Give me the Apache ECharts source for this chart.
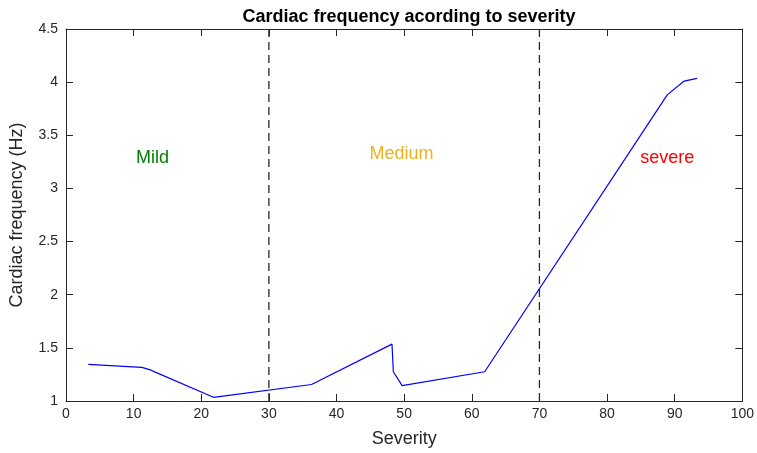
<!DOCTYPE html>
<html><head><meta charset="utf-8">
<script src="https://cdn.jsdelivr.net/npm/echarts@6/dist/echarts.min.js"></script>
<style>html,body{margin:0;padding:0;background:#fff}#c{width:757px;height:453px}</style>
</head><body><div id="c"></div>
<script>
const severity = [3.3, 11.2, 12.6, 13.2, 21.8, 36.3, 48.2, 48.4, 49.7, 61.9, 88.9, 91.4, 93.3];
const cardiacFreq = [1.345, 1.316, 1.29, 1.272, 1.035, 1.155, 1.535, 1.275, 1.145, 1.275, 3.88, 4.01, 4.035];
const dividers = [30, 70];
const regionNames = ['Mild', 'Medium', 'severe'];
const regionX = [12.8, 49.6, 88.9];
const regionY = [3.29, 3.32, 3.29];
const regionColors = ['#008000', '#EDB120', '#FF0000'];
const xTicks = [0,10,20,30,40,50,60,70,80,90,100];
const yTicks = [1,1.5,2,2.5,3,3.5,4,4.5];

const font = 'Liberation Sans, Arial, sans-serif';
const axisColor = '#262626';
const chart = echarts.init(document.getElementById('c'));

const series = [{
  type: 'line', xAxisIndex: 0, yAxisIndex: 0,
  data: severity.map((s, i) => [s, cardiacFreq[i]]),
  showSymbol: false, symbol: 'none',
  lineStyle: { color: '#0000FF', width: 1.2 }, z: 5
}];
dividers.forEach(d => series.push({
  type: 'line', xAxisIndex: 0, yAxisIndex: 0,
  data: [[d, 1], [d, 4.5]], symbol: 'none',
  lineStyle: { color: '#262626', width: 1.3, type: [8, 5] }, z: 4
}));
series.push({
  type: 'scatter', xAxisIndex: 0, yAxisIndex: 0, symbolSize: 0,
  itemStyle: { opacity: 1 },
  data: regionNames.map((n, i) => ({
    value: [regionX[i], regionY[i]], name: n,
    label: { show: true, position: 'inside', formatter: n, color: regionColors[i],
             fontSize: 18, fontFamily: font, opacity: 1 }
  }))
});

const baseAxis = {
  axisLine: { show: true, onZero: false, lineStyle: { color: axisColor, width: 1 } },
  axisTick: { show: true, inside: true, length: 7, lineStyle: { color: axisColor, width: 1 } },
  splitLine: { show: false }
};

chart.setOption({
  animation: false,
  backgroundColor: '#fff',
  title: {
    text: 'Cardiac frequency acording to severity', left: 404, top: 3, textAlign: 'center',
    textStyle: { fontFamily: font, fontWeight: 'bold', fontSize: 18, color: '#000' }
  },
  grid: { left: 66, right: 14, top: 29, bottom: 51 },
  xAxis: [
    Object.assign({}, baseAxis, {
      type: 'value', min: 0, max: 100, interval: 10, position: 'bottom',
      name: 'Severity', nameLocation: 'middle', nameGap: 29,
      nameTextStyle: { fontFamily: font, fontSize: 18, color: '#262626' },
      axisLabel: { fontFamily: font, fontSize: 14, color: '#262626', margin: 6 }
    }),
    Object.assign({}, baseAxis, {
      type: 'value', min: 0, max: 100, interval: 10, position: 'top',
      axisLabel: { show: false }
    })
  ],
  yAxis: [
    Object.assign({}, baseAxis, {
      type: 'value', min: 1, max: 4.5, interval: 0.5, position: 'left',
      name: 'Cardiac frequency (Hz)', nameLocation: 'middle', nameGap: 40,
      nameTextStyle: { fontFamily: font, fontSize: 18, color: '#262626' },
      axisLabel: { fontFamily: font, fontSize: 14, color: '#262626', margin: 8 }
    }),
    Object.assign({}, baseAxis, {
      type: 'value', min: 1, max: 4.5, interval: 0.5, position: 'right',
      axisLabel: { show: false }
    })
  ],
  series: series
});
</script></body></html>
